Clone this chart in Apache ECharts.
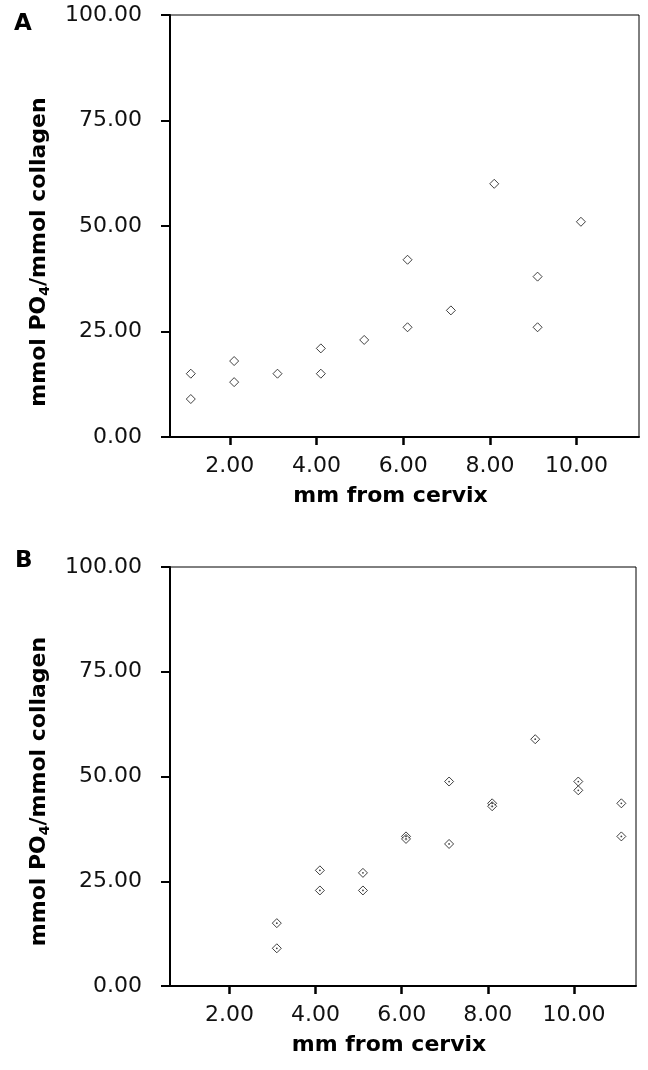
<!DOCTYPE html>
<html>
<head>
<meta charset="utf-8">
<script src="https://cdn.jsdelivr.net/npm/echarts@6/dist/echarts.min.js"></script>
<style>
html,body{margin:0;padding:0;background:#fff;}
#chart{width:648px;height:1070px;}
</style>
</head>
<body>
<div id="chart"></div>
<script>
// ---- data ----
const xTicks = [2, 4, 6, 8, 10];
const yTicks = [0, 25, 50, 75, 100];
const panelA_x = [1.1, 1.1, 2.1, 2.1, 3.1, 4.1, 4.1, 5.1, 6.1, 6.1, 7.1, 8.1, 9.1, 9.1, 10.1];
const panelA_y = [15, 9, 18, 13, 15, 21, 15, 23, 42, 26, 30, 60, 38, 26, 51];
const panelB_x = [3.1, 3.1, 4.1, 4.1, 5.1, 5.1, 6.1, 6.1, 7.1, 7.1, 8.1, 8.1, 9.1, 10.1, 10.1, 11.1, 11.1];
const panelB_y = [15, 9, 27.6, 22.8, 27, 22.8, 35.7, 35.1, 48.8, 33.9, 43.6, 42.9, 58.9, 48.8, 46.7, 43.6, 35.7];
const xLabel = 'mm from cervix';
const panelLabels = ['A', 'B'];

const pairs = (xs, ys) => xs.map((x, i) => [x, ys[i]]);
const FONT = 'DejaVu Sans';

function xAxis(gridIndex) {
  return {
    type: 'value', gridIndex, min: 0.62, max: 11.44,
    name: xLabel, nameLocation: 'middle', nameGap: 48,
    nameTextStyle: { fontFamily: FONT, fontWeight: 'bold', fontSize: 22, color: '#000', padding: [0, 28, 0, 0] },
    axisLine: { show: true, onZero: false, lineStyle: { color: '#000', width: 2 } },
    axisTick: { show: true, length: 8, customValues: xTicks, lineStyle: { color: '#000', width: 2.5 } },
    axisLabel: { customValues: xTicks, margin: 18, fontFamily: FONT, fontSize: 22, color: '#111',
      formatter: v => v.toFixed(2) },
    splitLine: { show: false }
  };
}
function yAxis(gridIndex, shift) {
  return {
    type: 'value', gridIndex, min: yTicks[0], max: yTicks[yTicks.length - 1], interval: 25,
    name: '{n|mmol PO}{sub|4}{n|/mmol collagen}',
    nameLocation: 'middle', nameRotate: 90, nameGap: 118,
    nameTextStyle: {
      padding: [0, shift, 0, 0],
      rich: {
        n: { fontFamily: FONT, fontWeight: 'bold', fontSize: 22, color: '#000' },
        sub: { fontFamily: FONT, fontWeight: 'bold', fontSize: 14, color: '#000', padding: [12, 0, 0, 0] }
      }
    },
    axisLine: { show: true, onZero: false, lineStyle: { color: '#000', width: 2 } },
    axisTick: { show: true, length: 9, lineStyle: { color: '#000', width: 2 } },
    axisLabel: { margin: 28, fontFamily: FONT, fontSize: 22, color: '#111',
      formatter: v => v.toFixed(2) },
    splitLine: { show: false }
  };
}

const chart = echarts.init(document.getElementById('chart'), null, { renderer: 'canvas' });
chart.setOption({
  animation: false,
  backgroundColor: '#fff',
  grid: [
    { left: 170, right: 9, top: 15, bottom: 633, show: true, borderColor: '#000', borderWidth: 1 },
    { left: 170, right: 12, top: 567, bottom: 84, show: true, borderColor: '#000', borderWidth: 1 }
  ],
  xAxis: [xAxis(0), xAxis(1)],
  yAxis: [yAxis(0, 52), yAxis(1, 30)],
  graphic: [
    { type: 'text', left: 14, top: 13, style: { text: panelLabels[0], font: 'bold 23px "DejaVu Sans"', fill: '#000' } },
    { type: 'text', left: 15, top: 550, style: { text: panelLabels[1], font: 'bold 23px "DejaVu Sans"', fill: '#000' } }
  ],
  series: [
    { type: 'scatter', xAxisIndex: 0, yAxisIndex: 0, data: pairs(panelA_x, panelA_y),
      symbol: 'diamond', symbolSize: 9,
      itemStyle: { color: '#fff', borderColor: '#111', borderWidth: 1 } },
    { type: 'scatter', xAxisIndex: 1, yAxisIndex: 1, data: pairs(panelB_x, panelB_y),
      symbol: 'diamond', symbolSize: 9,
      itemStyle: { color: '#fff', borderColor: '#111', borderWidth: 1 } },
    { type: 'scatter', xAxisIndex: 1, yAxisIndex: 1, data: pairs(panelB_x, panelB_y),
      symbol: 'circle', symbolSize: 1.8, silent: true,
      itemStyle: { color: '#111' } }
  ]
});
</script>
</body>
</html>
